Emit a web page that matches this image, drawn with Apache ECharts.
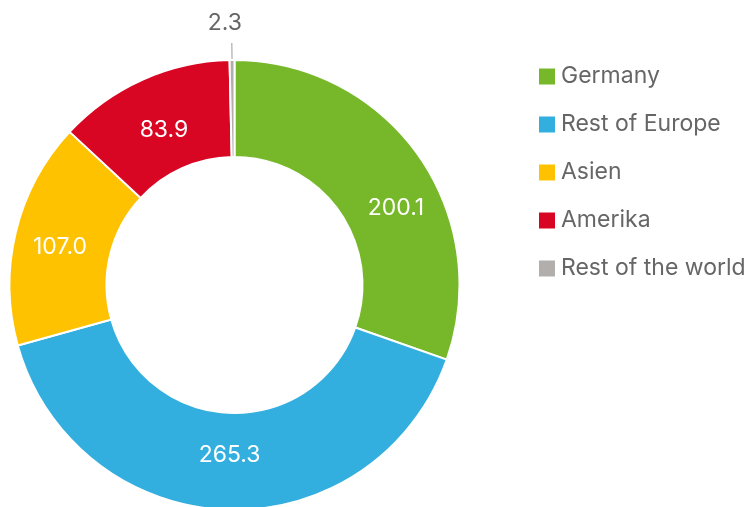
<!DOCTYPE html>
<html>
<head>
<meta charset="utf-8">
<title>Donut</title>
<script src="https://cdn.jsdelivr.net/npm/echarts@6/dist/echarts.min.js"></script>
<style>
    html, body { margin: 0; padding: 0; background: #fff; }
    #chart { width: 750px; height: 507px; }
</style>
</head>
<body>
<div id="chart"></div>
<script>
// 数据
var regions = ['Germany', 'Rest of Europe', 'Asien', 'Amerika', 'Rest of the world'];
var values = [200.1, 265.3, 107.0, 83.9, 2.3];
var colors = ['#77b82a', '#33afdf', '#fec200', '#d90623', '#b1aeab'];
// 标签微调
var labelOffsets = [[15, 27], [1, -9], [0, 4], [3, 9], [0, 0]];

window.onload = function() {
    draw_chart();
}

function draw_chart() {
    var myChart = echarts.init(document.getElementById('chart'));

    var data = regions.map(function(name, i) {
        var item = {
            name: name,
            value: values[i],
            itemStyle: { color: colors[i] },
            label: { offset: labelOffsets[i] }
        };
        // 最小的一块标签放在外面
        if (i == regions.length - 1) {
            item.label = {
                position: 'outside',
                color: '#666666',
                fontSize: 23
            };
            item.labelLine = {
                show: true,
                length: 17,
                length2: 0,
                lineStyle: { color: '#9a9a9a', width: 1 }
            };
        }
        return item;
    });

    var option = {
        animation: false,
        legend: {
            orient: 'vertical',
            left: 537,
            top: 65,
            padding: 0,
            icon: 'rect',
            itemWidth: 18,
            itemHeight: 18,
            itemGap: 25,
            textStyle: {
                color: '#666666',
                fontSize: 23,
                fontFamily: 'Inter'
            },
            data: regions
        },
        series: [{
            type: 'pie',
            center: [234.5, 285],
            radius: [128, 225],
            startAngle: 90,
            clockwise: true,
            avoidLabelOverlap: false,
            itemStyle: { borderColor: '#ffffff', borderWidth: 2 },
            label: {
                show: true,
                position: 'inside',
                color: '#ffffff',
                fontSize: 23,
                fontFamily: 'Inter',
                formatter: function(p) { return p.value.toFixed(1); }
            },
            labelLine: { show: false },
            labelLayout: function(params) {
                if (params.dataIndex == regions.length - 1) {
                    return { align: 'center', verticalAlign: 'bottom', dx: -2, dy: -8 };
                }
            },
            emphasis: { disabled: true },
            data: data
        }]
    };

    myChart.setOption(option);
}
</script>
</body>
</html>
